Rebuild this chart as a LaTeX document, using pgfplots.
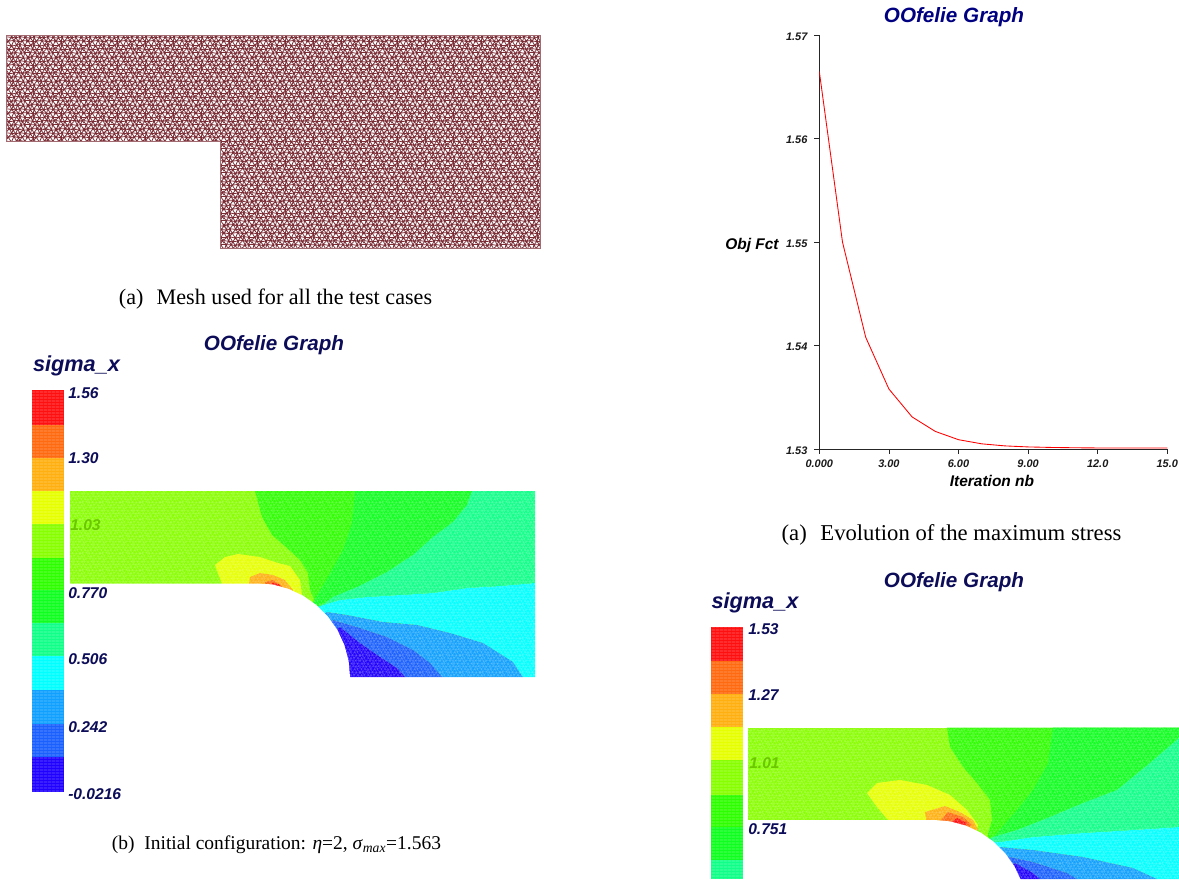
\documentclass[border=0pt]{standalone}
\usepackage{fontspec}
\setmainfont{Liberation Sans}
\newfontfamily\capfont{Liberation Serif}
\usepackage{pgfplots}
\pgfplotsset{compat=1.18}
\usetikzlibrary{patterns}
\definecolor{cR}{HTML}{FF1010}
\definecolor{cO}{HTML}{FF6A10}
\definecolor{cLO}{HTML}{FFB010}
\definecolor{cY}{HTML}{E6FF00}
\definecolor{cYG}{HTML}{88FF00}
\definecolor{cGa}{HTML}{2EFF00}
\definecolor{cGb}{HTML}{10FF20}
\definecolor{cT}{HTML}{10FF88}
\definecolor{cC}{HTML}{00FFFF}
\definecolor{cS}{HTML}{10A0FF}
\definecolor{cB}{HTML}{1A60FF}
\definecolor{cD}{HTML}{2000FF}
\definecolor{navy}{HTML}{000080}
\definecolor{dnavy}{HTML}{0C0C58}
\definecolor{meshc}{HTML}{7A2C35}
\def\jx{{0.6,-0.7,0.2,-0.4,-0.5,0.8,-0.2,0.5,0.3,-0.6,0.7,-0.1,-0.8,0.4,-0.3,0.6,0.9,-0.2,0.5,-0.9,0.1,0.7,-0.5,0.4,-0.1,0.8,-0.7,0.3,0.6,-0.4,0.2,-0.8,0.5,0.0,-0.6,0.7}}
\def\jy{{-0.4,0.5,0.7,-0.6,0.3,-0.7,0.4,0.2,-0.5,0.6,-0.3,0.5,0.6,-0.2,-0.6,0.1,0.8,-0.5,-0.1,0.4,-0.8,0.2,0.6,-0.3,0.5,-0.6,0.1,0.7,-0.4,0.3,-0.7,0.4,0.0,-0.5,0.6,-0.2}}
\newcommand\meshpt[2]{%
  \pgfmathtruncatemacro\kk{mod(#1+12,6)+6*mod(#2+12,6)}%
  \pgfmathsetmacro\mx{(#1+0.5*mod(#2+12,2))*\ma+\js*\jx[\kk]}%
  \pgfmathsetmacro\my{(#2)*\mh+\js*\jy[\kk]}}
\newcommand\meshseg{\pgfpathmoveto{\pgfpoint{\sx pt}{\sy pt}}\pgfpathlineto{\pgfpoint{\mx pt}{\my pt}}}
% name, a, h, line width, jitter scale, tile w, tile h
\newcommand\declmesh[7]{%
\pgfdeclarepatternformonly{#1}{\pgfpointorigin}{\pgfpoint{#6}{#7}}{\pgfpoint{#6}{#7}}{%
  \def\ma{#2}\def\mh{#3}\def\js{#5}\pgfsetlinewidth{#4}%
  \foreach \i in {-1,...,6}{\foreach \j in {-1,...,6}{%
    \meshpt{\i}{\j}\edef\sx{\mx}\edef\sy{\my}%
    \pgfmathtruncatemacro\ii{\i-1+mod(\j+12,2)}%
    \meshpt{\i+1}{\j}\meshseg
    \meshpt{\ii}{\j+1}\meshseg
    \meshpt{\ii+1}{\j+1}\meshseg
  }}%
  \pgfusepath{stroke}}}
\declmesh{meshA}{3.5}{3.03}{0.6pt}{0.9}{21pt}{18.18pt}
\declmesh{meshB}{2.5}{2.165}{0.2pt}{0.6}{15pt}{12.99pt}
\pgfdeclarepatternformonly{hlinesL}{\pgfpointorigin}{\pgfqpoint{3pt}{2.25pt}}{\pgfqpoint{3pt}{2.25pt}}{%
  \pgfsetlinewidth{0.3pt}\pgfpathmoveto{\pgfqpoint{0pt}{1pt}}\pgfpathlineto{\pgfqpoint{3pt}{1pt}}\pgfusepath{stroke}}
\newcommand\BI[1]{\fontsize{#1}{#1}\selectfont\bfseries\itshape}
\begin{document}
\begin{tikzpicture}
\path[use as bounding box] (0,0) rectangle (884.25pt,659.25pt);
\begin{axis}[scale only axis,width=884.25pt,height=659.25pt,axis lines=none,
  xmin=0,xmax=1179,ymin=0,ymax=879,y dir=reverse]
%%% mesh
\addplot[pattern=meshA,pattern color=meshc,draw=meshc!70,line width=0.6pt] coordinates
 {(6.5,35)(540.5,35)(540.5,248)(220,248)(220,141.5)(6.5,141.5)} --cycle;
%%% left legend
\addplot[fill=cR,draw=none] coordinates {(32,390)(64,390)(64,425)(32,425)} --cycle;
\addplot[fill=cO,draw=none] coordinates {(32,425)(64,425)(64,458)(32,458)} --cycle;
\addplot[fill=cLO,draw=none] coordinates {(32,458)(64,458)(64,491)(32,491)} --cycle;
\addplot[fill=cY,draw=none] coordinates {(32,491)(64,491)(64,524)(32,524)} --cycle;
\addplot[fill=cYG,draw=none] coordinates {(32,524)(64,524)(64,558)(32,558)} --cycle;
\addplot[fill=cGa,draw=none] coordinates {(32,558)(64,558)(64,590)(32,590)} --cycle;
\addplot[fill=cGb,draw=none] coordinates {(32,590)(64,590)(64,623)(32,623)} --cycle;
\addplot[fill=cT,draw=none] coordinates {(32,623)(64,623)(64,656)(32,656)} --cycle;
\addplot[fill=cC,draw=none] coordinates {(32,656)(64,656)(64,690)(32,690)} --cycle;
\addplot[fill=cS,draw=none] coordinates {(32,690)(64,690)(64,724)(32,724)} --cycle;
\addplot[fill=cB,draw=none] coordinates {(32,724)(64,724)(64,757)(32,757)} --cycle;
\addplot[fill=cD,draw=none] coordinates {(32,757)(64,757)(64,792)(32,792)} --cycle;
\addplot[pattern=hlinesL,pattern color=white,draw=none] coordinates {(32,390)(64,390)(64,792)(32,792)} --cycle;
%%% left contour
\addplot[fill=cYG,draw=none] coordinates {(70,491)(535,491)(535,677)(70,677)} --cycle;
\addplot[fill=cGa,draw=none] coordinates {(255,491)(472,491)(467,505)(453,522)(433,537)(413,555)(387,572)(357,587)(333,597)(315,610)(315,602)(310,590)(308,573)(300,560)(287,548)(272,535)(262,517)} --cycle;
\addplot[fill=cGb,draw=none] coordinates {(355,491)(472,491)(467,505)(453,522)(433,537)(413,555)(387,572)(357,587)(333,597)(315,608)(313,602)(328,577)(343,550)(352,523)} --cycle;
\addplot[fill=cT,draw=none] coordinates {(472,491)(535,491)(535,583)(500,586)(467,588)(433,593)(400,595)(367,597)(340,600)(320,606)(315,610)(333,597)(357,587)(387,572)(413,555)(433,537)(453,522)(467,505)} --cycle;
\addplot[fill=cC,draw=none] coordinates {(320,606)(340,600)(367,597)(400,595)(433,593)(467,588)(500,586)(535,583)(535,677)(523,677)(513,662)(483,643)(450,633)(417,625)(383,622)(347,615)(327,612)(315,620)(310,610)} --cycle;
\addplot[fill=cS,draw=none] coordinates {(327,612)(347,615)(383,622)(417,625)(450,633)(483,643)(513,662)(523,677)(442,677)(430,663)(413,650)(387,637)(360,628)(333,620)(315,630)(315,620)} --cycle;
\addplot[fill=cB,draw=none] coordinates {(333,620)(360,628)(387,637)(413,650)(430,663)(442,677)(405,677)(397,668)(380,657)(360,643)(340,627)(320,640)(315,630)} --cycle;
\addplot[fill=cD,draw=none] coordinates {(340,627)(360,643)(380,657)(397,668)(405,677)(320,677)(320,640)} --cycle;
\addplot[fill=cY,draw=none] coordinates {(222,584)(215,565)(225,557)(238,554)(260,557)(278,563)(290,566)(300,580)(302,595)(280,600)(222,600)} --cycle;
\addplot[fill=cLO,draw=none] coordinates {(248,590)(250,577)(260,573)(273,575)(285,580)(293,590)(290,600)(250,600)} --cycle;
\addplot[fill=cO,draw=none] coordinates {(265,590)(265,582)(273,580)(283,587)(285,595)} --cycle;
\addplot[fill=cR,draw=none] coordinates {(270,590)(272,583)(279,584)(282,590)} --cycle;
\addplot[pattern=meshB,pattern color=white,draw=none,fill opacity=0.3] coordinates {(70,491)(535,491)(535,677)(70,677)} --cycle;
\addplot[fill=white,draw=none] coordinates {(68,583.5)(256,583.5)(272.3,584.4)(288.1,588.7)(303,595.6)(316.4,605)(328,616.6)(337.4,630)(344.3,644.9)(348.6,660.7)(350,677)(350,680)(68,680)} --cycle;
%%% right legend
\addplot[fill=cR,draw=none] coordinates {(711,627)(743,627)(743,661)(711,661)} --cycle;
\addplot[fill=cO,draw=none] coordinates {(711,661)(743,661)(743,694)(711,694)} --cycle;
\addplot[fill=cLO,draw=none] coordinates {(711,694)(743,694)(743,727)(711,727)} --cycle;
\addplot[fill=cY,draw=none] coordinates {(711,727)(743,727)(743,760)(711,760)} --cycle;
\addplot[fill=cYG,draw=none] coordinates {(711,760)(743,760)(743,795)(711,795)} --cycle;
\addplot[fill=cGa,draw=none] coordinates {(711,795)(743,795)(743,827)(711,827)} --cycle;
\addplot[fill=cGb,draw=none] coordinates {(711,827)(743,827)(743,860)(711,860)} --cycle;
\addplot[fill=cT,draw=none] coordinates {(711,860)(743,860)(743,879)(711,879)} --cycle;
\addplot[pattern=hlinesL,pattern color=white,draw=none] coordinates {(711,627)(743,627)(743,879)(711,879)} --cycle;
%%% right contour
\addplot[fill=cYG,draw=none] coordinates {(748,727.5)(1179,727.5)(1179,879)(748,879)} --cycle;
\addplot[fill=cGa,draw=none] coordinates {(947,727.5)(1179,727.5)(1179,738)(1150,763)(1117,790)(1083,803)(1050,817)(1017,830)(993,837)(988,840)(988,833)(992,820)(990,800)(977,783)(963,767)(950,747)} --cycle;
\addplot[fill=cGb,draw=none] coordinates {(1053,727.5)(1179,727.5)(1179,738)(1150,763)(1117,790)(1083,803)(1050,817)(1017,830)(993,837)(997,833)(1017,810)(1033,790)(1048,763)} --cycle;
\addplot[fill=cT,draw=none] coordinates {(1179,738)(1179,827)(1133,830)(1083,833)(1033,837)(1000,842)(985,842)(993,837)(1017,830)(1050,817)(1083,803)(1117,790)(1150,763)} --cycle;
\addplot[fill=cC,draw=none] coordinates {(1000,842)(1033,837)(1083,833)(1133,830)(1179,827)(1179,879)(1157,879)(1133,868)(1083,857)(1033,850)(1000,847)(985,850)(985,842)} --cycle;
\addplot[fill=cS,draw=none] coordinates {(1000,847)(1033,850)(1083,857)(1133,868)(1157,879)(1077,879)(1067,873)(1033,862)(1010,857)(995,860)(990,847)} --cycle;
\addplot[fill=cB,draw=none] coordinates {(1010,857)(1033,862)(1067,873)(1077,879)(1040,879)(1033,873)(1015,863)(1000,870)(1000,857)} --cycle;
\addplot[fill=cD,draw=none] coordinates {(1015,863)(1033,873)(1040,879)(1005,879)(1005,870)} --cycle;
\addplot[fill=cY,draw=none] coordinates {(888,820)(877,807)(867,793)(877,783)(900,780)(927,785)(950,795)(967,810)(978,825)(975,835)(888,835)} --cycle;
\addplot[fill=cLO,draw=none] coordinates {(927,825)(925,812)(945,806)(960,812)(973,820)(978,830)(930,830)} --cycle;
\addplot[fill=cO,draw=none] coordinates {(937,825)(948,812)(963,817)(972,825)(965,830)} --cycle;
\addplot[fill=cR,draw=none] coordinates {(948,825)(957,818)(967,823)(962,830)} --cycle;
\addplot[pattern=meshB,pattern color=white,draw=none,fill opacity=0.3] coordinates {(748,727.5)(1179,727.5)(1179,879)(748,879)} --cycle;
\addplot[fill=white,draw=none] coordinates {(746,820)(934,820)(950.1,821.4)(965.8,825.6)(980.5,832.5)(993.8,841.8)(1005.2,853.2)(1014.5,866.5)(1021.4,881.2)(1021.4,885)(746,885)} --cycle;
%%% texts
\node[text=navy] at (axis cs:954,17) {\BI{15.5}OOfelie Graph};
\node[text=dnavy] at (axis cs:274,345) {\BI{15.5}OOfelie Graph};
\node[text=dnavy] at (axis cs:954,582) {\BI{15.5}OOfelie Graph};
\node[text=dnavy] at (axis cs:76.5,366) {\BI{16.3}sigma\_x};
\node[text=dnavy] at (axis cs:755,603) {\BI{16.3}sigma\_x};
\begin{scope}[every node/.style={anchor=west,inner sep=0pt,text=dnavy}]
\node at (axis cs:68,393) {\BI{11.7}1.56};
\node at (axis cs:68,458.5) {\BI{11.7}1.30};
\node[text=cYG!78!black] at (axis cs:70,525) {\BI{11.7}1.03};
\node at (axis cs:68,593) {\BI{11.7}0.770};
\node at (axis cs:68,659) {\BI{11.7}0.506};
\node at (axis cs:68,727) {\BI{11.7}0.242};
\node at (axis cs:68,794) {\BI{11.7}-0.0216};
\node at (axis cs:748,629) {\BI{11.7}1.53};
\node at (axis cs:748,695) {\BI{11.7}1.27};
\node[text=cYG!78!black] at (axis cs:749,763) {\BI{11.7}1.01};
\node at (axis cs:748,829) {\BI{11.7}0.751};
\end{scope}
\node[text=black] at (axis cs:752,245) {\BI{11.6}Obj Fct};
\node[text=black] at (axis cs:992,481) {\BI{11.6}Iteration nb};
\begin{scope}[every node/.style={inner sep=0pt,text=black}]
\node at (axis cs:275.5,299) {\capfont\fontsize{16.6}{16}\selectfont (a)\hspace{0.6em}Mesh used for all the test cases};
\node at (axis cs:951.5,535) {\capfont\fontsize{17}{16}\selectfont (a)\hspace{0.6em}Evolution of the maximum stress};
\node at (axis cs:276.5,845) {\capfont\fontsize{14.6}{16}\selectfont (b)\hspace{0.5em}Initial configuration: \textit{η}=2, \textit{σ}\textsubscript{\textit{max}}=1.563};
\end{scope}
\end{axis}
%%% line chart
\begin{axis}[scale only axis,at={(614.475pt,322.5pt)},anchor=south west,
  width=261pt,height=310.3pt,
  xmin=0,xmax=15,ymin=1.53,ymax=1.57,
  axis x line=bottom,axis y line=left,axis line style={-,black!85,line width=0.6pt},
  tick style={black!85,line width=0.6pt},tick align=outside,major tick length=3.75pt,
  xtick={0,3,6,9,12,15},xticklabels={0.000,3.00,6.00,9.00,12.0,15.0},
  ytick={1.53,1.54,1.55,1.56,1.57},yticklabels={1.53,1.54,1.55,1.56,1.57},
  yticklabel style={xshift=-3.5pt,yshift=-1pt},xticklabel style={yshift=-3pt},
  ticklabel style={font=\BI{8.2},text=black!90,inner sep=1.5pt}]
\addplot[red,line width=0.65pt] coordinates {(0,1.5665)(1,1.5500)(2,1.5408)(3,1.5358)(4,1.5331)(5,1.5317)(6,1.5309)(7,1.5305)(8,1.5303)(9,1.5302)(10,1.53015)(11,1.53012)(12,1.5301)(13,1.5301)(14,1.5301)(15,1.5301)};
\end{axis}
\end{tikzpicture}
\end{document}
